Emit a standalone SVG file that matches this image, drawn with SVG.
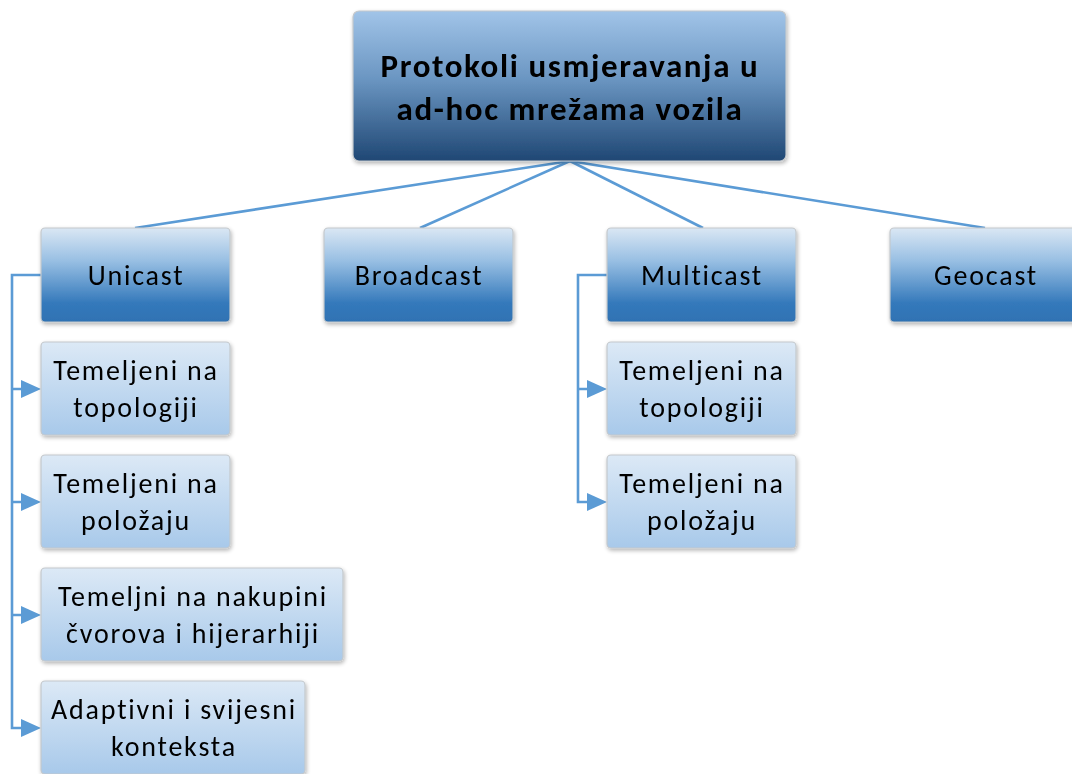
<svg xmlns="http://www.w3.org/2000/svg" width="1072" height="774" viewBox="0 0 1072 774">
<style>
text{font-family:Carlito,Lato,"Liberation Sans",sans-serif;fill:#000;text-anchor:middle}
.t{font-size:28px;letter-spacing:1.8px}
.r{font-size:33px;font-weight:bold;letter-spacing:1.6px}
.box{stroke:#c4c8cc;stroke-width:1.2}
.c{fill:none;stroke:#5b9bd5;stroke-width:2.6}
.ah{fill:#5b9bd5}
</style>
<defs>
<linearGradient id="gRoot" x1="0" y1="0" x2="0" y2="1"><stop offset="0" stop-color="#a1c4e8"/><stop offset="0.45" stop-color="#6b96c2"/><stop offset="1" stop-color="#1f4774"/></linearGradient>
<linearGradient id="gL1" x1="0" y1="0" x2="0" y2="1"><stop offset="0" stop-color="#dae7f4"/><stop offset="0.35" stop-color="#98bfe3"/><stop offset="0.8" stop-color="#3479bb"/><stop offset="1" stop-color="#2f72b3"/></linearGradient>
<linearGradient id="gL2" x1="0" y1="0" x2="0" y2="1"><stop offset="0" stop-color="#dce9f6"/><stop offset="1" stop-color="#a8c9ea"/></linearGradient>
<filter id="sh" x="-10%" y="-10%" width="120%" height="130%"><feGaussianBlur in="SourceAlpha" stdDeviation="2"/><feOffset dx="1" dy="2"/><feComponentTransfer><feFuncA type="linear" slope="0.3"/></feComponentTransfer><feMerge><feMergeNode/><feMergeNode in="SourceGraphic"/></feMerge></filter>
<path id="tri" class="ah" d="M-20,-9 L0,0 L-20,9 z"/>
</defs>
<g id="connectors">
<path class="c" d="M570,161 L135,228"/>
<path class="c" d="M570,161 L420,228"/>
<path class="c" d="M570,161 L703,228"/>
<path class="c" d="M570,161 L985,228"/>
<path class="c" d="M41,275 H12 V728 H24"/>
<path class="c" d="M12,389 H24 M12,502 H24 M12,615 H24"/>
<path class="c" d="M607,275 H578 V502 H590 M578,389 H590"/>
<use href="#tri" x="41" y="389"/>
<use href="#tri" x="41" y="502"/>
<use href="#tri" x="41" y="615"/>
<use href="#tri" x="41" y="728"/>
<use href="#tri" x="607" y="389"/>
<use href="#tri" x="607" y="502"/>
</g>
<g id="root" filter="url(#sh)"><rect class="box" x="353" y="11" width="433" height="150" rx="6" fill="url(#gRoot)"/><text class="r" x="570" y="77">Protokoli usmjeravanja u</text><text class="r" x="570" y="120">ad-hoc mrežama vozila</text></g>
<g id="unicast" filter="url(#sh)"><rect class="box" x="41" y="228" width="189" height="94" rx="4" fill="url(#gL1)"/><text class="t" x="136" y="285">Unicast</text></g>
<g id="broadcast" filter="url(#sh)"><rect class="box" x="324" y="228" width="189" height="94" rx="4" fill="url(#gL1)"/><text class="t" x="419" y="285">Broadcast</text></g>
<g id="multicast" filter="url(#sh)"><rect class="box" x="607" y="228" width="189" height="94" rx="4" fill="url(#gL1)"/><text class="t" x="702" y="285">Multicast</text></g>
<g id="geocast" filter="url(#sh)"><rect class="box" x="890" y="228" width="189" height="94" rx="4" fill="url(#gL1)"/><text class="t" x="986" y="285">Geocast</text></g>
<g id="u1" filter="url(#sh)"><rect class="box" x="41" y="342" width="189" height="93" rx="4" fill="url(#gL2)"/><text class="t" x="136" y="380">Temeljeni na</text><text class="t" x="136" y="417">topologiji</text></g>
<g id="u2" filter="url(#sh)"><rect class="box" x="41" y="455" width="189" height="93" rx="4" fill="url(#gL2)"/><text class="t" x="136" y="493">Temeljeni na</text><text class="t" x="136" y="530">položaju</text></g>
<g id="u3" filter="url(#sh)"><rect class="box" x="41" y="568" width="302" height="93" rx="4" fill="url(#gL2)"/><text class="t" x="193" y="606">Temeljni na nakupini</text><text class="t" x="193" y="643">čvorova i hijerarhiji</text></g>
<g id="u4" filter="url(#sh)"><rect class="box" x="41" y="681" width="264" height="93" rx="4" fill="url(#gL2)"/><text class="t" x="174" y="719">Adaptivni i svijesni</text><text class="t" x="174" y="756">konteksta</text></g>
<g id="m1" filter="url(#sh)"><rect class="box" x="607" y="342" width="189" height="93" rx="4" fill="url(#gL2)"/><text class="t" x="702" y="380">Temeljeni na</text><text class="t" x="702" y="417">topologiji</text></g>
<g id="m2" filter="url(#sh)"><rect class="box" x="607" y="455" width="189" height="93" rx="4" fill="url(#gL2)"/><text class="t" x="702" y="493">Temeljeni na</text><text class="t" x="702" y="530">položaju</text></g>
</svg>
